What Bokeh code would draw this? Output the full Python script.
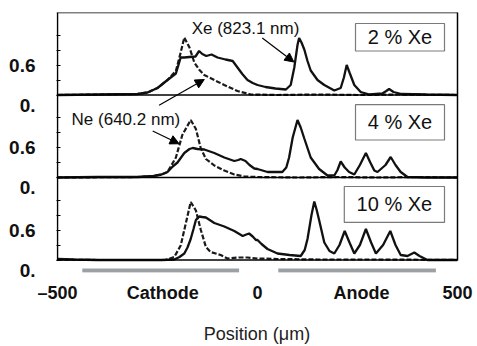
from bokeh.plotting import figure
from bokeh.models import (FixedTicker, Span, LinearAxis, Label, Arrow, NormalHead,
                          Range1d, CustomJSTickFormatter)
from bokeh.embed import file_html
from bokeh.resources import INLINE

# ---------------- data ----------------
panel_names = ["2 % Xe", "4 % Xe", "10 % Xe"]

# 2 % Xe
xe2_x = [-500, -400, -300, -275, -250, -225, -204, -192, -183, -170, -155, -146, -138, -128, -115, -100,
         -80, -62, -50, -38, -25, -12, 0, 20, 45, 71, 83, 92, 100, 104, 110, 117, 125, 133, 150, 167,
         192, 208, 216, 223, 230, 242, 258, 280, 312, 322, 329, 340, 360, 420, 500]
xe2_y = [0.0, 0.01, 0.02, 0.05, 0.14, 0.30, 0.43, 0.75, 0.75, 0.76, 0.77, 0.88, 0.82, 0.78, 0.81, 0.75,
         0.71, 0.68, 0.55, 0.42, 0.30, 0.24, 0.20, 0.16, 0.13, 0.11, 0.20, 0.55, 1.00, 1.14, 1.05, 0.91,
         0.68, 0.49, 0.30, 0.20, 0.09, 0.14, 0.35, 0.60, 0.45, 0.20, 0.06, 0.01, 0.03, 0.08, 0.12, 0.06,
         0.02, 0.01, 0.0]
ne2_x = [-500, -400, -300, -275, -250, -225, -204, -192, -183, -170, -158, -145, -133, -108, -83, -50,
         -17, 50, 150, 250, 350, 500]
ne2_y = [0.0, 0.01, 0.02, 0.05, 0.14, 0.30, 0.48, 0.85, 1.15, 0.95, 0.65, 0.50, 0.40, 0.30, 0.20, 0.08,
         0.01, 0.0, 0.01, 0.0, 0.01, 0.0]

# 4 % Xe
xe4_x = [-500, -400, -300, -260, -240, -225, -212, -200, -183, -170, -162, -150, -133, -108, -83, -58,
         -48, -42, -30, -20, -8, 0, 25, 62, 72, 79, 88, 100, 108, 117, 133, 154, 175, 192, 200, 208,
         218, 229, 242, 256, 271, 282, 292, 300, 320, 333, 345, 358, 375, 420, 500]
xe4_y = [0.0, 0.01, 0.01, 0.03, 0.06, 0.11, 0.22, 0.30, 0.49, 0.57, 0.59, 0.57, 0.56, 0.49, 0.40, 0.33,
         0.35, 0.37, 0.33, 0.25, 0.18, 0.17, 0.11, 0.11, 0.20, 0.40, 0.80, 1.15, 1.00, 0.78, 0.40, 0.17,
         0.04, 0.04, 0.15, 0.32, 0.20, 0.11, 0.06, 0.25, 0.49, 0.30, 0.14, 0.11, 0.25, 0.41, 0.25, 0.11,
         0.01, 0.0, 0.0]
ne4_x = [-500, -300, -260, -240, -225, -204, -188, -167, -154, -142, -129, -108, -83, -58, -33, 0, 100,
         200, 300, 400, 500]
ne4_y = [0.0, 0.01, 0.03, 0.06, 0.11, 0.40, 0.85, 1.15, 0.97, 0.59, 0.37, 0.24, 0.14, 0.06, 0.02, 0.01,
         0.0, 0.01, 0.0, 0.01, 0.0]

# 10 % Xe
xe10_x = [-500, -460, -400, -300, -240, -208, -195, -183, -175, -167, -160, -154, -146, -138, -129, -108,
          -83, -58, -37, -28, -21, -12, -4, 0, 10, 25, 50, 80, 108, 118, 125, 135, 142, 148, 154, 167,
          180, 192, 205, 218, 230, 242, 256, 271, 284, 296, 314, 332, 345, 358, 375, 392, 405, 425, 500]
xe10_y = [0.02, 0.01, 0.0, 0.0, 0.0, 0.01, 0.06, 0.13, 0.25, 0.42, 0.62, 0.80, 0.87, 0.86, 0.85, 0.74,
          0.67, 0.58, 0.48, 0.51, 0.53, 0.47, 0.40, 0.40, 0.32, 0.22, 0.13, 0.10, 0.08, 0.20, 0.42, 0.90,
          1.17, 1.00, 0.80, 0.35, 0.18, 0.13, 0.30, 0.58, 0.35, 0.13, 0.30, 0.62, 0.35, 0.13, 0.30, 0.58,
          0.30, 0.10, 0.08, 0.15, 0.08, 0.0, 0.0]
ne10_x = [-500, -400, -300, -230, -208, -192, -179, -167, -154, -142, -129, -117, -92, -75, -50, -25, 0,
          50, 150, 300, 500]
ne10_y = [0.01, 0.0, 0.0, 0.0, 0.06, 0.29, 0.74, 1.16, 0.99, 0.61, 0.26, 0.16, 0.10, 0.03, 0.05, 0.05,
          0.03, 0.02, 0.01, 0.01, 0.0]

xe_series = [(xe2_x, xe2_y), (xe4_x, xe4_y), (xe10_x, xe10_y)]
ne_series = [(ne2_x, ne2_y), (ne4_x, ne4_y), (ne10_x, ne10_y)]

x_ticks = [-500, 0, 500]
x_tick_labels = ["\u2013500", "0", "500"]
y_tick_steps = [0.0, 0.3, 0.6, 0.9, 1.2]
electrodes = ["Cathode", "Anode"]
electrode_start = [-438, 52]
electrode_end = [-46, 446]
electrode_label_x = [-237, 260]

# ---------------- layout ----------------
FONT = "Liberation Sans"
PANEL_H = 1.65
bases = [2 * PANEL_H, PANEL_H, 0.0]
Y_TOP = 3 * PANEL_H

p = figure(width=477, height=346, output_backend="svg", toolbar_location=None,
           x_range=Range1d(-502.5, 500), y_range=Range1d(-0.25, Y_TOP),
           min_border_left=56, min_border_right=20, min_border_top=12, min_border_bottom=64)
p.outline_line_color = None
p.grid.visible = False
p.background_fill_color = "white"
p.border_fill_color = "white"

# curves
for (xn, yn), (xx, yx), b in zip(ne_series, xe_series, bases):
    p.line(xn, [b + v for v in yn], line_color="#1a1a1a", line_width=2.2, line_dash="5 2")
    p.line(xx, [b + v for v in yx], line_color="#111111", line_width=2.3)

# panel frame lines
for b in bases + [Y_TOP]:
    p.add_layout(Span(location=b, dimension="width", line_color="black", line_width=1.5))
p.segment(x0=[-500], y0=[0], x1=[-500], y1=[Y_TOP], line_color="black", line_width=1.5)

# y axis: labelled major ticks ("0.6" and the offset "0."), unlabelled minor tick marks
major = sorted([round(b + 0.6, 3) for b in bases] + [round(b - 0.2, 3) for b in bases])
minor = [round(b + t, 3) for b in bases for t in y_tick_steps]
yax = p.yaxis[0]
yax.ticker = FixedTicker(ticks=major, minor_ticks=minor)
yax.formatter = CustomJSTickFormatter(
    code="const d = tick - Math.floor((tick + 0.5) / 1.65) * 1.65; return d > 0.3 ? '0.6' : '0.';")
yax.axis_line_color = None
yax.major_tick_line_color = None
yax.minor_tick_in = 4
yax.minor_tick_out = 0
yax.minor_tick_line_width = 1.2
yax.minor_tick_line_color = "black"
yax.major_label_standoff = 15
yax.major_label_text_font = FONT
yax.major_label_text_font_size = "19px"
yax.major_label_text_font_style = "bold"
yax.major_label_text_color = "#111111"

rax = LinearAxis(bounds=(0, Y_TOP), ticker=FixedTicker(ticks=[]), axis_line_width=1.5,
                 major_tick_line_color=None, minor_tick_line_color=None,
                 major_label_text_font_size="0px")
p.add_layout(rax, "right")

# x axis: numbers plus electrode names on one row
xt = x_ticks + electrode_label_x
xl = x_tick_labels + electrodes
xax = p.xaxis[0]
xax.ticker = FixedTicker(ticks=xt)
xax.major_label_overrides = dict(zip(xt, xl))
xax.axis_line_color = None
xax.major_tick_line_color = None
xax.minor_tick_line_color = None
xax.major_label_standoff = 4
xax.major_label_text_font = FONT
xax.major_label_text_font_size = "18px"
xax.major_label_text_font_style = "bold"
xax.major_label_text_color = "#111111"
xax.axis_label = "Position (\u03bcm)"
xax.axis_label_standoff = 18
xax.axis_label_text_font = FONT
xax.axis_label_text_font_size = "18px"
xax.axis_label_text_font_style = "normal"
xax.axis_label_text_color = "#222222"

# electrode bars
p.segment(x0=electrode_start, y0=[-0.212] * 2, x1=electrode_end, y1=[-0.212] * 2,
          line_color="#9ba0a4", line_width=4.3)

# concentration boxes
box_left = [245, 245, 217]
box_right = [467.5, 467.5, 467.5]
box_top = [4.73, 3.107, 1.47]
box_bottom = [4.18, 2.40, 0.751]
p.quad(left=box_left, right=box_right, top=box_top, bottom=box_bottom,
       fill_color="white", line_color="#7a7a7a", line_width=1.2)
for name, l, r, t, bt in zip(panel_names, box_left, box_right, box_top, box_bottom):
    p.add_layout(Label(x=(l + r) / 2, y=(t + bt) / 2, text=name, text_align="center",
                       text_baseline="middle", text_font=FONT, text_font_size="20px",
                       text_color="#111111"))

# line annotations
p.add_layout(Label(x=-30, y=4.64, text="Xe (823.1 nm)", text_align="center", text_baseline="middle",
                   text_font=FONT, text_font_size="17px", text_color="#111111"))
p.add_layout(Label(x=-329, y=2.82, text="Ne (640.2 nm)", text_align="center", text_baseline="middle",
                   text_font=FONT, text_font_size="17px", text_color="#111111"))
arrows = [(12, 4.44, 91, 3.96), (-246, 3.095, -133, 3.61), (-262, 2.58, -196, 2.325)]
for xs, ys, xe, ye in arrows:
    p.add_layout(Arrow(end=NormalHead(size=9, fill_color="black", line_color="black", line_width=1),
                       x_start=xs, y_start=ys, x_end=xe, y_end=ye, line_color="black", line_width=1.2))

open("out.html", "w").write(file_html(p, INLINE))
